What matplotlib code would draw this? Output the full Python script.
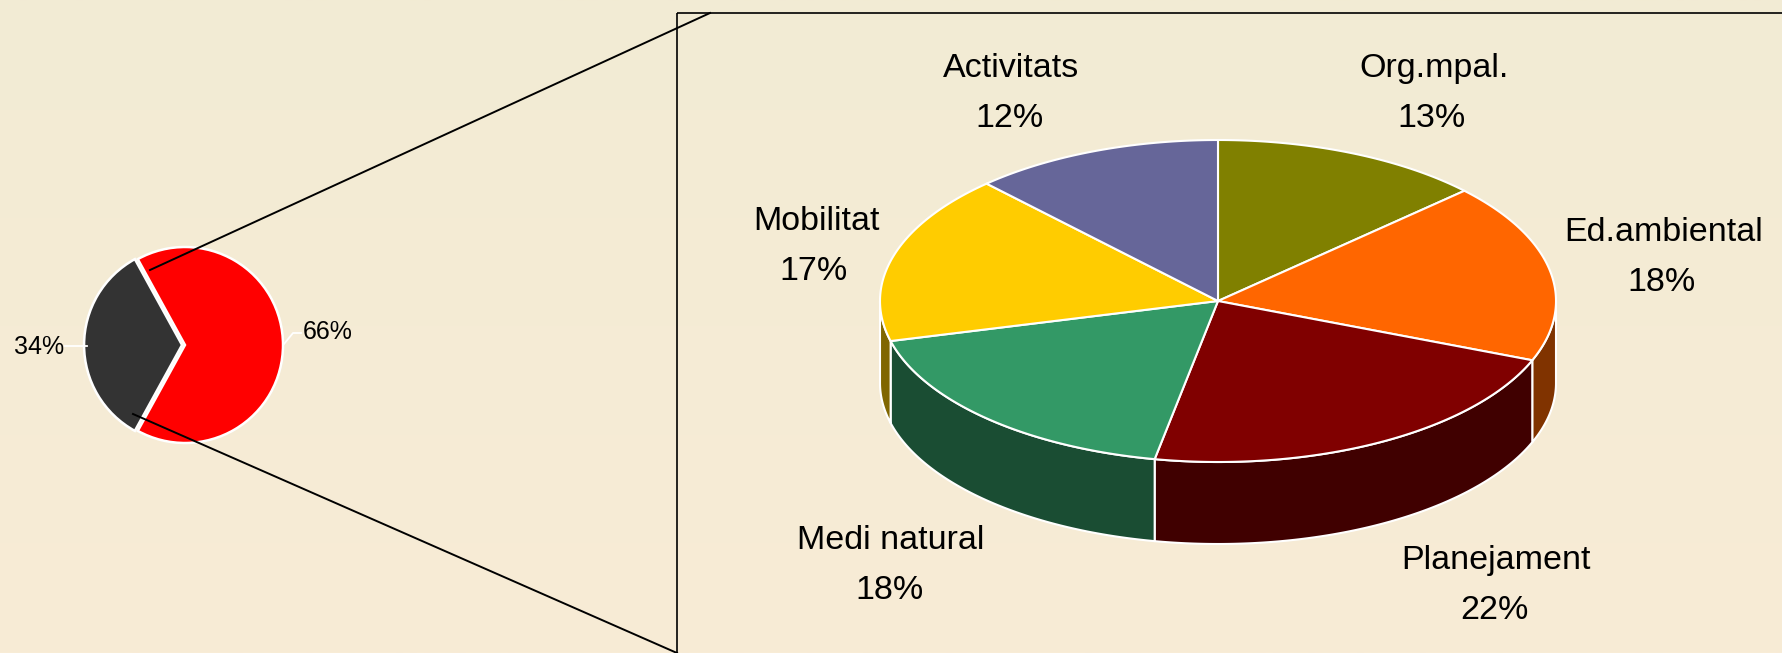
import numpy as np
import matplotlib
matplotlib.use("Agg")
import matplotlib.pyplot as plt
from matplotlib.patches import Polygon, Rectangle
from matplotlib.lines import Line2D

# ---------------- data ----------------
overview_labels = ["66%", "34%"]
overview_values = [66, 34]
overview_colors = ["#FF0000", "#333333"]

categories = ["Org.mpal.", "Ed.ambiental", "Planejament", "Medi natural", "Mobilitat", "Activitats"]
shares = [13, 18, 22, 18, 17, 12]
top_colors = ["#808000", "#FF6600", "#800000", "#339966", "#FFCC00", "#666699"]

# ---------------- layout ----------------
W, H = 1782, 653
FONT = ["Liberation Sans", "DejaVu Sans"]
plt.rcParams["font.family"] = FONT

fig = plt.figure(figsize=(W / 100, H / 100), dpi=100)

# background gradient
bg = fig.add_axes([0, 0, 1, 1], zorder=0)
bg.axis("off")
g = np.linspace(0, 1, 256)[:, None, None]
c_top = np.array([0xF2, 0xEB, 0xD4]) / 255
c_bot = np.array([0xF8, 0xEC, 0xD6]) / 255
bg.imshow(c_top + (c_bot - c_top) * g, extent=[0, 1, 0, 1], aspect="auto")
bg.set_xlim(0, 1); bg.set_ylim(0, 1)

# small overview pie
pcx, pcy, pr = 185, 345, 98
half = 1.25 * pr
pax = fig.add_axes([(pcx - half) / W, (H - pcy - half) / H, 2 * half / W, 2 * half / H], zorder=1)
pax.patch.set_alpha(0)
start = 180 + overview_values[1] / sum(overview_values) * 180
pax.pie(overview_values, colors=overview_colors, startangle=start, counterclock=True,
        explode=[0, 0.03], radius=1.0,
        wedgeprops=dict(edgecolor="white", linewidth=1.8))
pax.set_xlim(-1.25, 1.25); pax.set_ylim(-1.25, 1.25)

# main overlay axes in pixel coordinates
ax = fig.add_axes([0, 0, 1, 1], zorder=2)
ax.patch.set_alpha(0)
ax.set_xlim(0, W); ax.set_ylim(H, 0)
ax.axis("off")

# overview labels + white leaders
ax.add_line(Line2D([65, 87], [346, 346], color="white", lw=1.3))
ax.add_line(Line2D([284, 293, 301], [344, 333, 333], color="white", lw=1.3))
ax.text(39, 354, overview_labels[1], ha="center", va="baseline", fontsize=18, color="black")
ax.text(328, 339, overview_labels[0], ha="center", va="baseline", fontsize=18, color="black")

# zoom box + connectors
ax.add_patch(Rectangle((677, 13), 1300, 800, fill=False, edgecolor="black", lw=1.2))
ax.add_line(Line2D([150, 710], [270, 13], color="black", lw=1.4))
ax.add_line(Line2D([133, 677], [414, 653], color="black", lw=1.4))

# 3D pie
cx, cy, a, b, depth = 1218, 301, 338, 161, 82
total = sum(shares)
bounds = np.concatenate([[0], np.cumsum(shares)]) / total * 360.0


def pts(t0, t1, dy=0.0, n=120):
    t = np.radians(np.linspace(t0, t1, n))
    return np.column_stack([cx + a * np.sin(t), cy - b * np.cos(t) + dy])


def darker(hexc, f=0.5):
    r, g_, b_ = matplotlib.colors.to_rgb(hexc)
    return (r * f, g_ * f, b_ * f)


# outer walls (front half only)
for i, col in enumerate(top_colors):
    lo, hi = max(bounds[i], 90.0), min(bounds[i + 1], 270.0)
    if lo < hi:
        top = pts(lo, hi)
        bot = pts(lo, hi, depth)[::-1]
        ax.add_patch(Polygon(np.vstack([top, bot]), closed=True, facecolor=darker(col),
                             edgecolor="white", lw=1.5, joinstyle="round"))

# top faces
for i, col in enumerate(top_colors):
    arc = pts(bounds[i], bounds[i + 1])
    ax.add_patch(Polygon(np.vstack([[cx, cy], arc]), closed=True, facecolor=col,
                         edgecolor="white", lw=1.5, joinstyle="round"))

# labels (name + percent), baselines
label_pos = [(1434, 77), (1664, 241), (1496, 569), (891, 549), (816, 230), (1011, 77)]
for (lx, ly), name, v in zip(label_pos, categories, shares):
    ax.text(lx, ly, name, ha="center", va="baseline", fontsize=24.5, color="black")
    ax.text(lx - 2, ly + 50, f"{v}%", ha="center", va="baseline", fontsize=24.5, color="black")

fig.savefig("out.png", dpi=100)
